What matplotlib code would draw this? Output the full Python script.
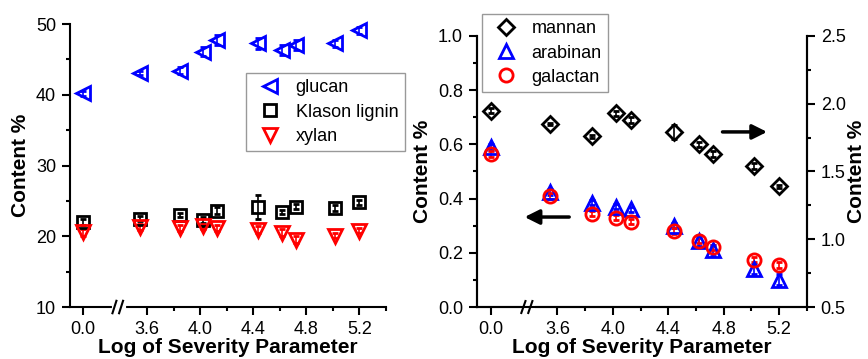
import numpy as np
import matplotlib
matplotlib.use("Agg")
import matplotlib.pyplot as plt
from matplotlib.ticker import MultipleLocator, FixedLocator, FormatStrFormatter
import matplotlib.transforms as mtransforms

plt.rcParams['font.family'] = ['Liberation Sans', 'DejaVu Sans']
plt.rcParams['font.size'] = 13

# log of severity parameter (0.0 = untreated)
severity = np.array([0.0, 3.55, 3.85, 4.02, 4.13, 4.44, 4.62, 4.72, 5.02, 5.2])

glucan = [40.2, 43.1, 43.4, 46.1, 47.7, 47.3, 46.4, 47.1, 47.3, 49.1]
glucan_err = [0.3, 0.3, 0.5, 0.6, 0.7, 0.8, 0.7, 0.7, 0.5, 0.5]
lignin = [22.0, 22.5, 23.0, 22.3, 23.6, 24.2, 23.4, 24.2, 24.0, 24.8]
lignin_err = [0.4, 0.3, 0.3, 0.4, 0.5, 1.7, 0.3, 0.3, 0.4, 0.4]
xylan = [20.6, 21.3, 21.2, 21.4, 21.2, 20.9, 20.5, 19.5, 20.1, 20.8]
xylan_err = [0.5, 0.4, 0.4, 0.4, 0.4, 0.5, 0.5, 0.5, 0.4, 0.4]

mannan = [1.95, 1.85, 1.76, 1.93, 1.88, 1.79, 1.70, 1.63, 1.54, 1.39]
mannan_err = [0.02, 0.01, 0.01, 0.02, 0.02, 0.05, 0.02, 0.02, 0.02, 0.01]
arabinan = [0.59, 0.425, 0.385, 0.37, 0.36, 0.30, 0.245, 0.21, 0.14, 0.10]
arabinan_err = [0.01, 0.01, 0.01, 0.01, 0.01, 0.01, 0.02, 0.02, 0.02, 0.02]
galactan = [0.565, 0.41, 0.345, 0.33, 0.315, 0.28, 0.245, 0.22, 0.175, 0.155]
galactan_err = [0.01, 0.01, 0.01, 0.01, 0.01, 0.01, 0.01, 0.01, 0.01, 0.01]

x_major = [0.0, 3.6, 4.0, 4.4, 4.8, 5.2]
x_minor = [3.8, 4.2, 4.6, 5.0, 5.4]

ZERO_POS = 3.12   # where the untreated sample sits on the broken axis
BREAK_POS = 3.375


def xpos(v):
    v = np.asarray(v, dtype=float)
    return np.where(v < 1, v + ZERO_POS, v)


def ticks(ax):
    ax.tick_params(which='major', direction='out', length=6, width=1.5,
                   labelsize=13, pad=4)
    ax.tick_params(which='minor', direction='out', length=3, width=1.5)
    for s in ax.spines.values():
        s.set_linewidth(1.5)
    ax.spines['top'].set_visible(False)


def style_axis(ax):
    ax.set_xlim(3.02, 5.4)
    ax.xaxis.set_major_locator(FixedLocator(xpos(x_major)))
    ax.set_xticklabels(["%.1f" % v for v in x_major])
    ax.xaxis.set_minor_locator(FixedLocator(x_minor))
    ticks(ax)
    ax.set_xlabel("Log of Severity Parameter", fontsize=15, fontweight='bold', labelpad=0)
    # break mark on the x axis
    trans = mtransforms.blended_transform_factory(ax.transData, ax.transAxes)
    ax.plot([BREAK_POS - 0.02, BREAK_POS + 0.05], [0, 0], color='white', lw=3,
            transform=trans, clip_on=False, zorder=5)
    for dx in (-0.02, 0.03):
        ax.plot([BREAK_POS + dx - 0.015, BREAK_POS + dx + 0.015], [-0.022, 0.022],
                color='k', lw=1.5, transform=trans, clip_on=False, zorder=6)


def series(ax, y, err, marker, color, ms, label):
    c = ax.errorbar(xpos(severity), y, yerr=err, fmt=marker, color=color, mfc='none',
                    mec=color, mew=2, ms=ms, capsize=2.5, elinewidth=1.2,
                    clip_on=False, zorder=4)
    return c[0], label


def legend(ax, entries, anchor):
    leg = ax.legend([e[0] for e in entries], [e[1] for e in entries], loc='upper left',
                    bbox_to_anchor=anchor, borderaxespad=0, fancybox=False,
                    edgecolor='gray', fontsize=13, labelspacing=0.4,
                    handletextpad=0.4, handlelength=2.0, borderpad=0.35)
    leg.get_frame().set_linewidth(1.0)
    return leg


fig = plt.figure(figsize=(8.68, 3.59), dpi=100)

# left panel
ax1 = fig.add_axes([0.0806, 0.1448, 0.364, 0.788])
hg = series(ax1, glucan, glucan_err, '<', '#0000ff', 10.5, 'glucan')
hl = series(ax1, lignin, lignin_err, 's', 'black', 8.5, 'Klason lignin')
hx = series(ax1, xylan, xylan_err, 'v', '#ff0000', 10.5, 'xylan')
ax1.set_ylim(10, 50)
ax1.yaxis.set_major_locator(MultipleLocator(10))
ax1.yaxis.set_minor_locator(MultipleLocator(5))
ax1.spines['right'].set_visible(False)
style_axis(ax1)
ax1.set_ylabel("Content %", fontsize=15, fontweight='bold')
legend(ax1, [hg, hl, hx], (0.557, 0.827))

# right panel
ax2 = fig.add_axes([0.5495, 0.1448, 0.380, 0.755])
ax3 = ax2.twinx()
ha = series(ax2, arabinan, arabinan_err, '^', '#0000ff', 10.5, 'arabinan')
hc = series(ax2, galactan, galactan_err, 'o', '#ff0000', 9.5, 'galactan')
hm = series(ax3, mannan, mannan_err, 'D', 'black', 8, 'mannan')
ax2.set_ylim(0, 1.0)
ax2.yaxis.set_major_locator(MultipleLocator(0.2))
ax2.yaxis.set_minor_locator(MultipleLocator(0.1))
ax3.set_ylim(0.5, 2.5)
ax3.yaxis.set_major_locator(MultipleLocator(0.5))
ax3.yaxis.set_minor_locator(MultipleLocator(0.25))
ticks(ax3)
style_axis(ax2)
ax2.yaxis.set_major_formatter(FormatStrFormatter('%.1f'))
ax3.yaxis.set_major_formatter(FormatStrFormatter('%.1f'))
ax2.set_ylabel("Content %", fontsize=15, fontweight='bold')
ax3.set_ylabel("Content %", fontsize=15, fontweight='bold', labelpad=1)
legend(ax3, [hm, ha, hc], (0.015, 1.081))

# arrows pointing to the axis each group belongs to
arrow = dict(arrowstyle='-|>', lw=2.5, color='k', mutation_scale=22)
ax3.annotate('', xy=(0.888, 0.646), xytext=(0.736, 0.646), xycoords='axes fraction',
             arrowprops=arrow)
ax3.annotate('', xy=(0.136, 0.332), xytext=(0.288, 0.332), xycoords='axes fraction',
             arrowprops=arrow)

fig.savefig("out.png", dpi=100)
